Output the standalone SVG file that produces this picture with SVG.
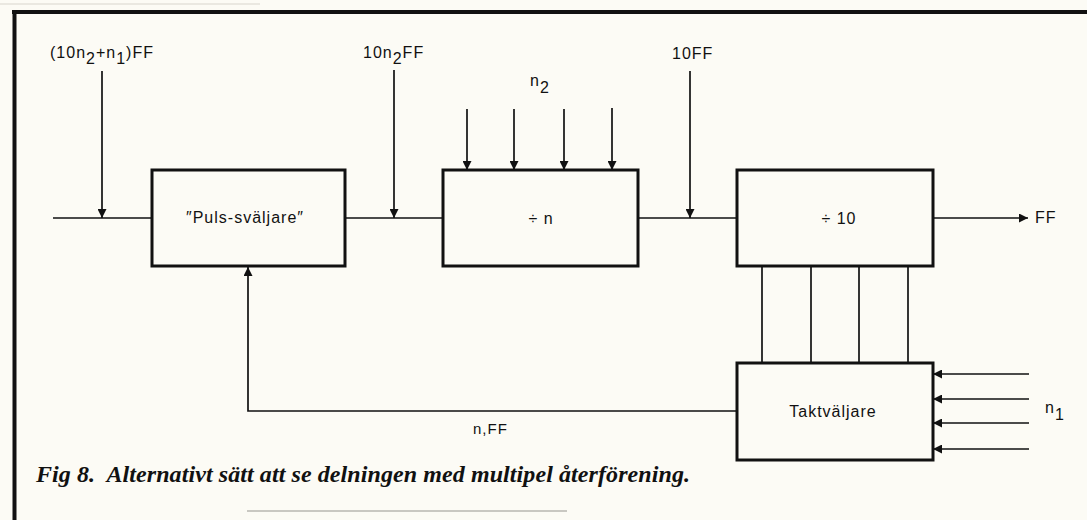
<svg xmlns="http://www.w3.org/2000/svg" width="1087" height="520" viewBox="0 0 1087 520">
<defs>
<style>
.box{fill:none;stroke:#111;stroke-width:3}
.ln{fill:none;stroke:#111;stroke-width:1.7}
.lbl{font-family:"Liberation Sans",Arial,sans-serif;font-size:16px;fill:#111;letter-spacing:1px}
.blbl{font-family:"Liberation Sans",Arial,sans-serif;font-size:16px;fill:#111;letter-spacing:1px;text-anchor:middle}
.cap{font-family:"Liberation Serif","Times New Roman",serif;font-size:24px;font-weight:bold;font-style:italic;fill:#111}
</style>
<marker id="ah" viewBox="0 0 10 10" refX="10" refY="5" markerWidth="9" markerHeight="9" markerUnits="userSpaceOnUse" orient="auto">
<path d="M0,0 L10,5 L0,10 Z" fill="#111"/>
</marker>
</defs>
<rect width="1087" height="520" fill="#fcfbf5"/>
<g id="frame">
<line x1="0" y1="4" x2="260" y2="4" stroke="#e4e2da" stroke-width="1.5"/>
<line x1="12" y1="12" x2="1087" y2="12" stroke="#111" stroke-width="4"/>
<line x1="14.5" y1="10" x2="14.5" y2="520" stroke="#111" stroke-width="4"/>
<line x1="247" y1="511" x2="567" y2="511" stroke="#c9c8c2" stroke-width="2"/>
</g>
<g id="connectors">
<line class="ln" x1="53" y1="218" x2="152" y2="218"/>
<line class="ln" x1="102" y1="71" x2="102" y2="218" marker-end="url(#ah)"/>
<line class="ln" x1="345" y1="218" x2="443" y2="218"/>
<line class="ln" x1="394" y1="70" x2="394" y2="218" marker-end="url(#ah)"/>
<line class="ln" x1="467" y1="109" x2="467" y2="170" marker-end="url(#ah)"/>
<line class="ln" x1="514" y1="109" x2="514" y2="170" marker-end="url(#ah)"/>
<line class="ln" x1="564" y1="109" x2="564" y2="170" marker-end="url(#ah)"/>
<line class="ln" x1="612" y1="108" x2="612" y2="170" marker-end="url(#ah)"/>
<line class="ln" x1="638" y1="218" x2="737" y2="218"/>
<line class="ln" x1="690" y1="71" x2="690" y2="218" marker-end="url(#ah)"/>
<line class="ln" x1="933" y1="218" x2="1028" y2="218" marker-end="url(#ah)"/>
<line class="ln" x1="762" y1="265" x2="762" y2="363"/>
<line class="ln" x1="811" y1="265" x2="811" y2="363"/>
<line class="ln" x1="859" y1="265" x2="859" y2="363"/>
<line class="ln" x1="908" y1="265" x2="908" y2="363"/>
<line class="ln" x1="1029" y1="374" x2="933" y2="374" marker-end="url(#ah)"/>
<line class="ln" x1="1029" y1="399" x2="933" y2="399" marker-end="url(#ah)"/>
<line class="ln" x1="1029" y1="423" x2="933" y2="423" marker-end="url(#ah)"/>
<line class="ln" x1="1029" y1="449" x2="933" y2="449" marker-end="url(#ah)"/>
<polyline class="ln" points="737,411 248,411 248,267" marker-end="url(#ah)"/>
</g>
<g id="labels">
<text class="lbl" x="50" y="58">(10n<tspan dy="6">2</tspan><tspan dy="-6">+n</tspan><tspan dy="6">1</tspan><tspan dy="-6">)FF</tspan></text>
<text class="lbl" x="363" y="58">10n<tspan dy="6">2</tspan><tspan dy="-6">FF</tspan></text>
<text class="lbl" x="672" y="59">10FF</text>
<text class="lbl" x="530" y="86">n<tspan dy="7">2</tspan></text>
<text class="lbl" x="1035" y="223">FF</text>
<text class="lbl" x="1045" y="413">n<tspan dy="7">1</tspan></text>
<text class="lbl" x="473" y="434" style="font-size:15px">n,FF</text>
</g>
<g id="puls">
<rect class="box" x="152" y="170" width="193" height="96"/>
<text class="blbl" x="245" y="223">″Puls-sväljare″</text>
</g>
<g id="divn">
<rect class="box" x="443" y="170" width="195" height="96"/>
<text class="blbl" x="541" y="224">÷ n</text>
</g>
<g id="div10">
<rect class="box" x="737" y="170" width="196" height="96"/>
<text class="blbl" x="839" y="224">÷ 10</text>
</g>
<g id="takt">
<rect class="box" x="737" y="363" width="196" height="97"/>
<text class="blbl" x="833" y="417">Taktväljare</text>
</g>
<text class="cap" x="36" y="482" textLength="654" lengthAdjust="spacing">Fig 8.&#160; Alternativt sätt att se delningen med multipel återförening.</text>
</svg>
